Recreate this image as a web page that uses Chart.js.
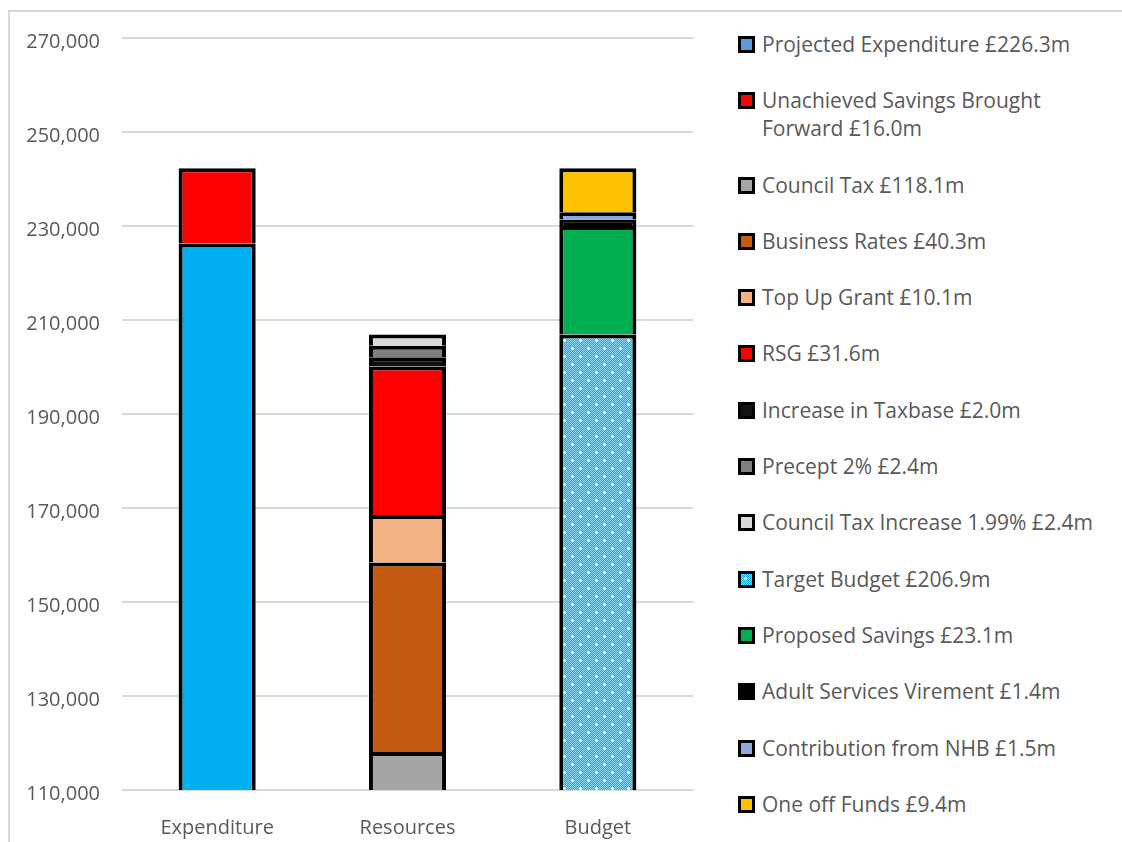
<!DOCTYPE html>
<html>
<head>
<meta charset="utf-8">
<script src="https://cdn.jsdelivr.net/npm/chart.js@4.4.1/dist/chart.umd.min.js"></script>
<style>
  html, body { margin: 0; padding: 0; background: #fff; }
  body { width: 1122px; height: 842px; position: relative; overflow: hidden; font-family: "Open Sans", sans-serif; }
  .frame { position: absolute; left: 8px; top: 10px; width: 1200px; height: 900px; border: 2px solid #d9d9d9; box-sizing: border-box; }
  .chart-box { position: absolute; left: 0; top: 0; width: 700px; height: 842px; }
  #legend { position: absolute; left: 738px; top: 30px; color: #595959; font-size: 21px; }
  .item { display: flex; align-items: flex-start; line-height: 28px; margin-bottom: 28.3px; white-space: pre-line; }
  .box { width: 17px; height: 17px; box-sizing: border-box; border: 3px solid #000; margin: 6px 7px 0 0; flex: none; }
</style>
</head>
<body>
<div class="frame"></div>
<div class="chart-box"><canvas id="budget-chart"></canvas></div>
<div id="legend"></div>
<script>
const categories = ['Expenditure', 'Resources', 'Budget'];
const yTicks = [110000, 130000, 150000, 170000, 190000, 210000, 230000, 250000, 270000];

// £000s, one value per column (null where the item isn't used)
const projectedExpenditure = [226300, null, null];
const unachievedSavings = [16000, null, null];
const councilTax = [null, 118100, null];
const businessRates = [null, 40300, null];
const topUpGrant = [null, 10100, null];
const rsg = [null, 31600, null];
const taxbaseIncrease = [null, 2000, null];
const precept = [null, 2400, null];
const councilTaxIncrease = [null, 2400, null];
const targetBudget = [null, null, 206900];
const proposedSavings = [null, null, 23100];
const adultVirement = [null, null, 1400];
const nhbContribution = [null, null, 1500];
const oneOffFunds = [null, null, 9400];

function dottedPattern() {
    const tile = document.createElement('canvas');
    tile.width = 16;
    tile.height = 16;
    const c = tile.getContext('2d');
    c.fillStyle = '#00b0f0';
    c.fillRect(0, 0, 16, 16);
    c.fillStyle = '#8cdaf8';
    for (let y = 0; y < 16; y++) {
        for (let x = (y % 2); x < 16; x += 2) {
            c.fillRect(x, y, 1, 1);
        }
    }
    c.fillStyle = '#ffffff';
    [[4, 4], [12, 12]].forEach(([x, y]) => {
        c.fillRect(x - 1, y, 3, 1);
        c.fillRect(x, y - 1, 1, 3);
    });
    return tile;
}

const patternTile = dottedPattern();
const ctx = document.getElementById('budget-chart');
const targetFill = ctx.getContext('2d').createPattern(patternTile, 'repeat');

const datasets = [
    { label: 'Projected Expenditure £226.3m', data: projectedExpenditure, backgroundColor: '#00b0f0', legendColor: '#5b9bd5' },
    { label: 'Unachieved Savings Brought\nForward £16.0m', data: unachievedSavings, backgroundColor: '#ff0000' },
    { label: 'Council Tax £118.1m', data: councilTax, backgroundColor: '#a5a5a5' },
    { label: 'Business Rates £40.3m', data: businessRates, backgroundColor: '#c55a11' },
    { label: 'Top Up Grant £10.1m', data: topUpGrant, backgroundColor: '#f4b183' },
    { label: 'RSG £31.6m', data: rsg, backgroundColor: '#ff0000' },
    { label: 'Increase in Taxbase £2.0m', data: taxbaseIncrease, backgroundColor: '#111111' },
    { label: 'Precept 2% £2.4m', data: precept, backgroundColor: '#7f7f7f' },
    { label: 'Council Tax Increase 1.99% £2.4m', data: councilTaxIncrease, backgroundColor: '#d9d9d9' },
    { label: 'Target Budget £206.9m', data: targetBudget, backgroundColor: targetFill, legendImage: true },
    { label: 'Proposed Savings £23.1m', data: proposedSavings, backgroundColor: '#00b050' },
    { label: 'Adult Services Virement £1.4m', data: adultVirement, backgroundColor: '#000000' },
    { label: 'Contribution from NHB £1.5m', data: nhbContribution, backgroundColor: '#8ea9db' },
    { label: 'One off Funds £9.4m', data: oneOffFunds, backgroundColor: '#ffc000' },
];

const chart = new Chart(ctx, {
    type: 'bar',
    data: {
        labels: categories,
        datasets: datasets.map((d) => ({
            ...d,
            borderColor: '#000000',
            borderWidth: 4,
            borderSkipped: 'start',
            inflateAmount: 0,
            barPercentage: 0.405,
            categoryPercentage: 1,
        })),
    },
    options: {
        responsive: true,
        maintainAspectRatio: false,
        animation: false,
        devicePixelRatio: 1,
        layout: { padding: { top: 38, right: 7, left: 0, bottom: 0 } },
        plugins: {
            legend: { display: false },
            tooltip: { enabled: false },
        },
        scales: {
            x: {
                stacked: true,
                border: { display: false },
                grid: { display: false },
                ticks: { color: '#595959', font: { family: 'Open Sans', size: 20 }, padding: 18 },
                afterFit: (scale) => { scale.height = 52; },
            },
            y: {
                stacked: true,
                min: 110000,
                max: 270000,
                border: { display: false },
                grid: { color: '#d9d9d9', lineWidth: 2, drawTicks: false },
                afterBuildTicks: (scale) => {
                    scale.ticks = yTicks.map((value) => ({ value }));
                },
                afterFit: (scale) => { scale.width = 122; },
                ticks: {
                    color: '#595959',
                    font: { family: 'Open Sans', size: 20 },
                    padding: 22,
                    labelOffset: 4,
                    callback: (value) => Number(value).toLocaleString('en-GB'),
                },
            },
        },
    },
});

// html legend, built from the chart's datasets
const legend = document.getElementById('legend');
chart.data.datasets.forEach((d) => {
    const item = document.createElement('div');
    item.className = 'item';
    const box = document.createElement('span');
    box.className = 'box';
    if (d.legendImage) {
        box.style.background = `url(${patternTile.toDataURL()})`;
    } else {
        box.style.background = d.legendColor || d.backgroundColor;
    }
    const text = document.createElement('span');
    text.textContent = d.label;
    item.appendChild(box);
    item.appendChild(text);
    legend.appendChild(item);
});
</script>
</body>
</html>
